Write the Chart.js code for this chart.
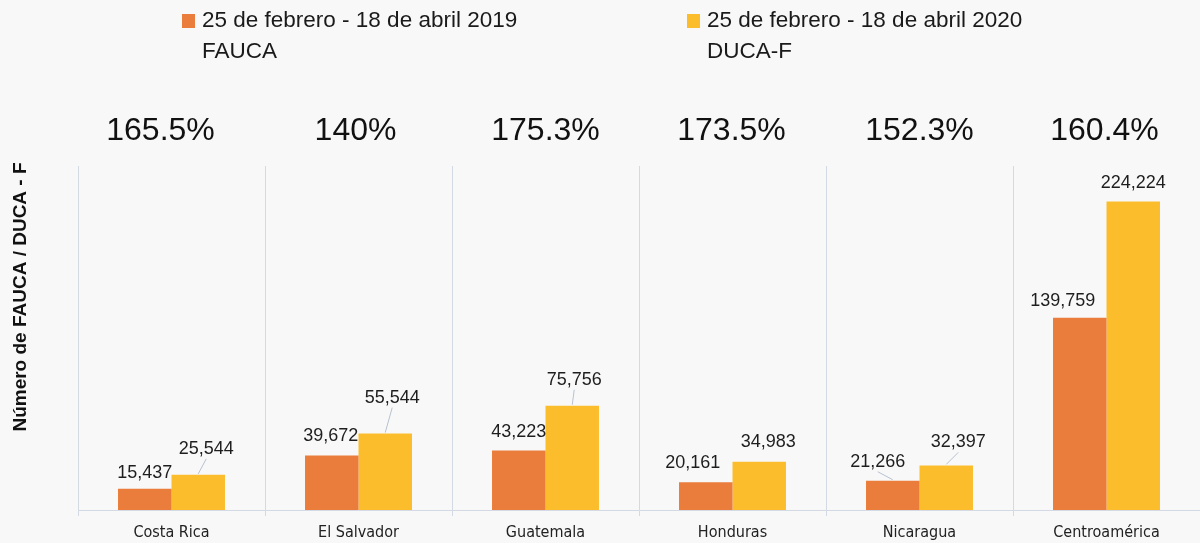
<!DOCTYPE html>
<html>
<head>
<meta charset="utf-8">
<script src="https://cdn.jsdelivr.net/npm/chart.js@4"></script>
<style>
  html, body { margin: 0; padding: 0; background: #f8f8f8; }
  #wrap { width: 1200px; height: 543px; }
</style>
</head>
<body>
<div id="wrap"><canvas id="c" width="1200" height="543"></canvas></div>
<script>
// ---- data ----
const categories = ['Costa Rica', 'El Salvador', 'Guatemala', 'Honduras', 'Nicaragua', 'Centroamérica'];
const fauca2019 = [15437, 39672, 43223, 20161, 21266, 139759];
const duca2020 = [25544, 55544, 75756, 34983, 32397, 224224];
const growthLabels = ['165.5%', '140%', '175.3%', '173.5%', '152.3%', '160.4%'];
const seriesNames = ['25 de febrero - 18 de abril 2019', '25 de febrero - 18 de abril 2020'];
const seriesSubNames = ['FAUCA', 'DUCA-F'];
const yTitle = 'Número de FAUCA / DUCA - F';

// ---- styling ----
const colors = ['#ea7d3b', '#fcbd2d'];
const lineColor = '#d3dae4';
const textColor = '#1e1e1e';
const sans = "'Liberation Sans', Arial, sans-serif";
const narrow = "'Liberation Sans Narrow', 'DejaVu Sans Condensed', sans-serif";
// label offsets (label centre relative to bar top centre) and leader-line flags
const labelOffsets = [
  [[0, -16], [-1, -19], [0, -18], [-13, -19], [-15, -19], [-17, -17]],
  [[8, -26], [7, -36], [2, -26], [9, -20], [12, -23], [0, -18]]
];
const leaders = [
  [false, false, false, false, true, false],
  [true, true, true, false, true, false]
];
const pctDx = [-11, -3, 0, -1, 0, -2];

const fmt = v => v.toLocaleString('en-US');

const overlay = {
  id: 'overlay',
  afterDatasetsDraw(chart) {
    const ctx = chart.ctx;
    const xs = chart.scales.x;
    ctx.save();
    // value labels
    ctx.font = '18px ' + sans;
    ctx.textAlign = 'center';
    ctx.textBaseline = 'middle';
    chart.data.datasets.forEach((ds, di) => {
      const meta = chart.getDatasetMeta(di);
      meta.data.forEach((bar, i) => {
        const [dx, dy] = labelOffsets[di][i];
        const lx = bar.x + dx, ly = bar.y + dy;
        if (leaders[di][i]) {
          ctx.strokeStyle = '#b7c1cf';
          ctx.lineWidth = 1;
          ctx.beginPath();
          ctx.moveTo(bar.x, bar.y - 1);
          ctx.lineTo(lx, ly + 10);
          ctx.stroke();
        }
        ctx.fillStyle = textColor;
        ctx.fillText(fmt(ds.data[i]), lx, ly);
      });
    });
    // growth percentages
    ctx.font = '32px ' + sans;
    ctx.fillStyle = '#111';
    growthLabels.forEach((t, i) => {
      ctx.fillText(t, xs.getPixelForValue(i) + pctDx[i], 131);
    });
    // y title
    ctx.save();
    ctx.translate(21, 297);
    ctx.rotate(-Math.PI / 2);
    ctx.font = 'bold 19px ' + sans;
    ctx.fillStyle = '#111';
    ctx.fillText(yTitle, 0, 0);
    ctx.restore();
    // legend
    const lx = [182, 687];
    ctx.font = '22.5px ' + sans;
    ctx.textAlign = 'left';
    seriesNames.forEach((name, i) => {
      ctx.fillStyle = colors[i];
      ctx.fillRect(lx[i], 14, 13, 14);
      ctx.fillStyle = '#1a1a1a';
      ctx.fillText(name, lx[i] + 20, 21);
      ctx.fillText(seriesSubNames[i], lx[i] + 20, 52);
    });
    ctx.restore();
  }
};

new Chart(document.getElementById('c'), {
  type: 'bar',
  data: {
    labels: categories,
    datasets: [
      { label: seriesNames[0], data: fauca2019, backgroundColor: colors[0] },
      { label: seriesNames[1], data: duca2020, backgroundColor: colors[1] }
    ]
  },
  options: {
    responsive: false,
    animation: false,
    layout: { padding: { top: 166, right: 0, left: 0, bottom: 0 } },
    datasets: { bar: { categoryPercentage: 0.572, barPercentage: 1.0, borderWidth: 0 } },
    plugins: { legend: { display: false }, tooltip: { enabled: false } },
    scales: {
      x: {
        offset: true,
        grid: { display: true, offset: true, color: lineColor, lineWidth: 1, tickLength: 6, drawOnChartArea: true },
        border: { display: true, color: lineColor, width: 1 },
        ticks: { color: '#222', font: { family: narrow, size: 16 }, padding: 7, maxRotation: 0 },
        afterFit: s => { s.height = 33; }
      },
      y: {
        min: 0, max: 250000,
        grid: { display: false },
        border: { display: true, color: lineColor, width: 1 },
        ticks: { display: false },
        afterFit: s => { s.width = 78; }
      }
    }
  },
  plugins: [overlay]
});
</script>
</body>
</html>
